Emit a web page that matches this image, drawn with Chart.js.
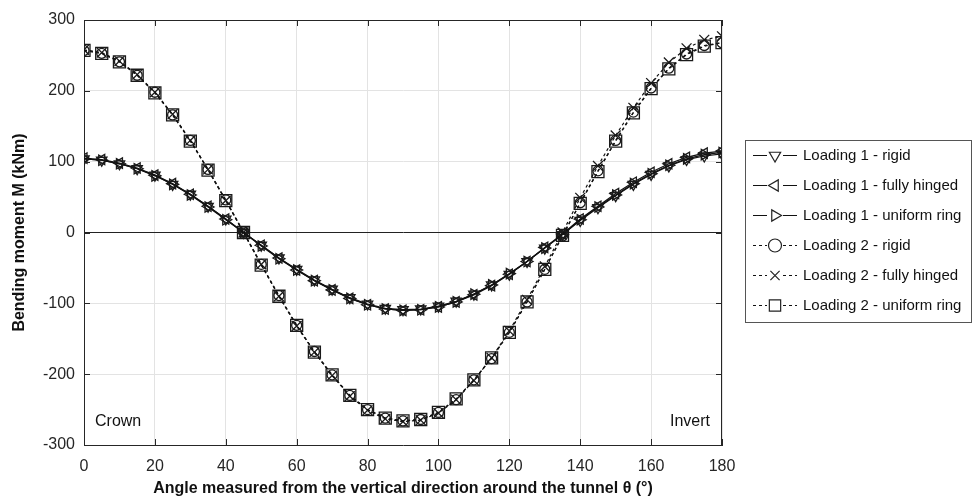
<!DOCTYPE html>
<html>
<head>
<meta charset="utf-8">
<script src="https://cdn.jsdelivr.net/npm/chart.js@4.4.1/dist/chart.umd.min.js"></script>
<style>
  html, body { margin: 0; padding: 0; background: #fff; }
  #wrap { width: 974px; height: 500px; position: relative; }
</style>
</head>
<body>
<div id="wrap"><canvas id="momentChart"></canvas></div>
<script>
// angle around the tunnel (deg)
const angles = [0, 5, 10, 15, 20, 25, 30, 35, 40, 45, 50, 55, 60, 65, 70, 75, 80, 85, 90,
                95, 100, 105, 110, 115, 120, 125, 130, 135, 140, 145, 150, 155, 160, 165, 170, 175, 180];

// bending moment (kNm)
const load1Rigid   = [104, 102, 97, 90, 81, 68, 54, 37, 19, 0, -18, -36, -52, -67, -80, -92, -101, -107, -109,
                      -108, -104, -97, -87, -74, -59, -41, -22, -3, 17, 35, 52, 68, 82, 94, 103, 108, 111];
const load1Hinged  = [105, 103, 98, 91, 81, 69, 54, 37, 19, 0, -18, -36, -53, -68, -81, -93, -102, -108, -110,
                      -109, -105, -98, -88, -75, -59, -41, -21, -2, 19, 37, 55, 71, 85, 97, 106, 112, 115];
const load1Uniform = [104, 102, 97, 90, 80, 68, 53, 36, 18, 0, -19, -37, -53, -68, -81, -93, -102, -108, -110,
                      -109, -105, -98, -87, -74, -58, -41, -22, -3, 18, 36, 53, 69, 83, 95, 104, 110, 113];
const load2Rigid   = [257, 253, 241, 222, 198, 166, 130, 89, 46, 1, -45, -89, -131, -168, -201, -230, -250, -262, -266,
                      -264, -254, -236, -208, -178, -141, -98, -52, -5, 42, 87, 130, 170, 204, 232, 252, 264, 268];
const load2Hinged  = [258, 254, 242, 223, 198, 167, 130, 89, 45, 0, -45, -90, -132, -169, -202, -231, -251, -263, -267,
                      -265, -255, -236, -209, -177, -139, -95, -48, 0, 49, 94, 137, 176, 211, 240, 260, 272, 277];
const load2Uniform = [257, 253, 241, 222, 197, 166, 129, 88, 45, 0, -46, -90, -131, -169, -201, -230, -250, -262, -266,
                      -264, -254, -235, -208, -177, -141, -98, -52, -4, 41, 86, 129, 169, 203, 231, 251, 263, 268];

const FONT = "'Liberation Sans', Arial, Helvetica, sans-serif";
const INK = '#262626';

function pts(vals) {
  return angles.map((a, i) => ({ x: a, y: vals[i] }));
}

function series(label, vals, style, rot, radius, dashed) {
  return {
    label: label,
    data: pts(vals),
    borderColor: '#111',
    borderWidth: 1.2,
    borderDash: dashed ? [3, 3] : [],
    pointStyle: style,
    rotation: rot,
    pointRadius: radius,
    pointBorderColor: '#1a1a1a',
    pointBackgroundColor: 'rgba(0,0,0,0)',
    pointBorderWidth: 1.3,
    fill: false,
    tension: 0
  };
}

const datasets = [
  series('Loading 1 - rigid', load1Rigid, 'triangle', 180, 6, false),
  series('Loading 1 - fully hinged', load1Hinged, 'triangle', 270, 6, false),
  series('Loading 1 - uniform ring', load1Uniform, 'triangle', 90, 6, false),
  series('Loading 2 - rigid', load2Rigid, 'circle', 0, 5, true),
  series('Loading 2 - fully hinged', load2Hinged, 'crossRot', 0, 7, true),
  series('Loading 2 - uniform ring', load2Uniform, 'rect', 0, 8.5, true)
];

// frame, inner ticks, Crown / Invert notes and the line+marker legend
const extras = {
  id: 'extras',
  afterDraw(chart) {
    const { ctx, chartArea: a, scales } = chart;
    ctx.save();
    ctx.strokeStyle = INK;
    ctx.lineWidth = 1;
    ctx.beginPath();
    ctx.moveTo(a.left, a.top + 0.5); ctx.lineTo(a.right, a.top + 0.5);
    ctx.moveTo(a.right - 0.5, a.top); ctx.lineTo(a.right - 0.5, a.bottom);
    scales.x.ticks.forEach(t => {
      const px = Math.round(scales.x.getPixelForValue(t.value)) + 0.5;
      ctx.moveTo(px, a.bottom); ctx.lineTo(px, a.bottom - 6);
      ctx.moveTo(px, a.top); ctx.lineTo(px, a.top + 6);
    });
    scales.y.ticks.forEach(t => {
      const py = Math.round(scales.y.getPixelForValue(t.value)) + 0.5;
      ctx.moveTo(a.left, py); ctx.lineTo(a.left + 6, py);
      ctx.moveTo(a.right, py); ctx.lineTo(a.right - 6, py);
    });
    ctx.stroke();

    ctx.fillStyle = '#111';
    ctx.font = '16px ' + FONT;
    ctx.textBaseline = 'middle';
    ctx.textAlign = 'left';
    ctx.fillText('Crown', a.left + 11, 422);
    ctx.textAlign = 'right';
    ctx.fillText('Invert', a.right - 12, 422);

    // legend box
    const bx = 745, by = 140, bw = 227, bh = 183;
    ctx.fillStyle = '#fff';
    ctx.fillRect(bx, by, bw, bh);
    ctx.strokeStyle = '#555';
    ctx.strokeRect(bx + 0.5, by + 0.5, bw - 1, bh - 1);
    chart.data.datasets.forEach((ds, i) => {
      const y = by + 15 + i * 30;
      ctx.strokeStyle = '#111';
      ctx.lineWidth = 1.2;
      ctx.setLineDash(ds.borderDash);
      ctx.beginPath();
      ctx.moveTo(bx + 8, y + 0.5);
      ctx.lineTo(bx + 52, y + 0.5);
      ctx.stroke();
      ctx.setLineDash([]);
      ctx.fillStyle = '#fff';
      ctx.fillRect(bx + 22, y - 7, 16, 15);
      ctx.strokeStyle = '#222';
      Chart.helpers.drawPoint(ctx, {
        pointStyle: ds.pointStyle,
        rotation: ds.rotation,
        radius: ds.pointStyle === 'rect' ? 8 : 6.5,
        borderWidth: 1.2
      }, bx + 30, y + 0.5);
      ctx.lineWidth = 1;
      ctx.fillStyle = '#111';
      ctx.font = '15px ' + FONT;
      ctx.textAlign = 'left';
      ctx.fillText(ds.label, bx + 58, y + 1);
    });
    ctx.restore();
  }
};

new Chart(document.getElementById('momentChart').getContext('2d'), {
  type: 'line',
  data: { datasets: datasets },
  options: {
    responsive: true,
    maintainAspectRatio: false,
    animation: false,
    devicePixelRatio: 1,
    layout: { padding: { top: 20, right: 252, left: 0, bottom: 0 } },
    plugins: { legend: { display: false }, tooltip: { enabled: false } },
    scales: {
      x: {
        type: 'linear',
        min: 0, max: 180,
        afterFit: s => { s.height = 55; },
        ticks: { stepSize: 20, padding: 12, color: INK, font: { family: FONT, size: 16 } },
        grid: { color: '#e3e3e3', drawTicks: false },
        border: { display: true, color: INK },
        title: {
          display: true,
          text: 'Angle measured from the vertical direction around the tunnel θ (°)',
          color: '#111',
          font: { family: FONT, size: 16, weight: 'bold' },
          padding: { top: 0, bottom: 2 }
        }
      },
      y: {
        min: -300, max: 300,
        afterFit: s => { s.width = 84; },
        ticks: { stepSize: 100, padding: 9, color: INK, font: { family: FONT, size: 16 } },
        grid: {
          drawTicks: false,
          color: c => (c.tick && c.tick.value === 0 ? '#222' : '#e3e3e3')
        },
        border: { display: true, color: INK },
        title: {
          display: true,
          text: 'Bending moment M (kNm)',
          color: '#111',
          font: { family: FONT, size: 16, weight: 'bold' },
          padding: { top: 10, bottom: 0 }
        }
      }
    }
  },
  plugins: [extras]
});
</script>
</body>
</html>
